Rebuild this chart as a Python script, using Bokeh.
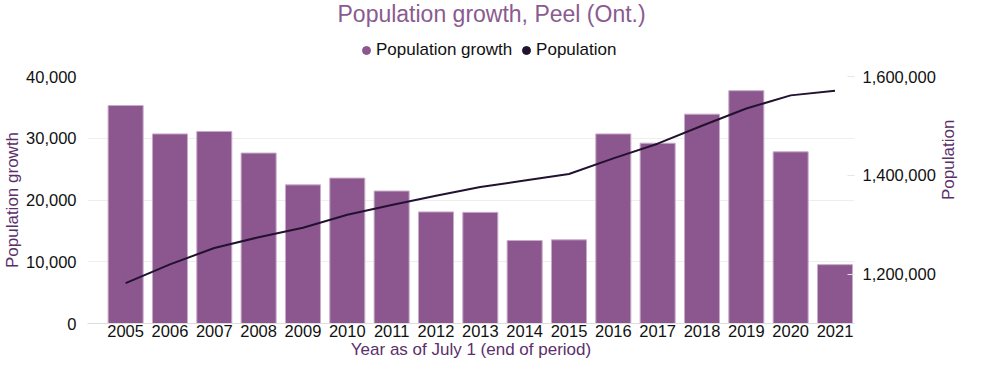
import math
from bokeh.plotting import figure
from bokeh.layouts import column
from bokeh.models import (Range1d, LinearAxis, FixedTicker, NumeralTickFormatter,
                          Legend, LegendItem, Title, ColumnDataSource)
from bokeh.embed import file_html
from bokeh.resources import INLINE

years = [2005, 2006, 2007, 2008, 2009, 2010, 2011, 2012, 2013,
         2014, 2015, 2016, 2017, 2018, 2019, 2020, 2021]
growth = [35300, 30700, 31100, 27600, 22450, 23550, 21450, 18070, 18000,
          13440, 13550, 30700, 29200, 33900, 37700, 27800, 9530]
population = [1181600, 1219800, 1252800, 1274600, 1293700, 1320100, 1340000,
              1358400, 1376200, 1389500, 1402600, 1434300, 1464000, 1500300,
              1535300, 1561800, 1571000]
left_ticks = [0, 10000, 20000, 30000, 40000]
right_ticks = [1200000, 1400000, 1600000]

FONT = "Liberation Sans"
BAR = "#8b578e"
LINE = "#221230"
LABEL = "#5b2f6b"
TICK = "#111111"

# ---------- header: title + legend ----------
head = figure(width=970, height=62, output_backend="svg", toolbar_location=None,
              title=None, x_range=Range1d(0, 1), y_range=Range1d(0, 1),
              min_border_left=0, min_border_right=0, min_border_top=0,
              min_border_bottom=0)
head.axis.visible = False
head.grid.visible = False
head.outline_line_color = None
head.border_fill_color = "white"
head.background_fill_color = "white"

dummy = ColumnDataSource(dict(x=[-10], y=[-10]))
d1 = head.scatter(x="x", y="y", source=dummy, marker="circle", size=8,
                  fill_color=BAR, line_color=BAR)
d2 = head.scatter(x="x", y="y", source=dummy, marker="circle", size=8,
                  fill_color=LINE, line_color=LINE)
legend = Legend(items=[LegendItem(label="Population growth", renderers=[d1]),
                       LegendItem(label="Population", renderers=[d2])],
                orientation="horizontal", location=(269, 2), margin=0,
                padding=0, spacing=4, label_standoff=0,
                glyph_width=20, glyph_height=20, label_height=20,
                label_text_font=FONT, label_text_font_size="17px",
                label_text_color=TICK, border_line_color=None,
                background_fill_alpha=0)
head.add_layout(legend, "center")
title = Title(text="Population growth, Peel (Ont.)", align="left", offset=250,
              text_font=FONT, text_font_size="23px", text_font_style="normal",
              text_color="#8a5b8f", vertical_align="top", standoff=0)
head.add_layout(title, "above")

# ---------- main chart ----------
src = ColumnDataSource(dict(year=years, growth=growth, pop=population))

p = figure(width=970, height=301, output_backend="svg", toolbar_location=None,
           title=None, x_range=Range1d(2004.14, 2021.44), y_range=Range1d(0, 40000),
           min_border_left=80, min_border_right=104, min_border_top=14,
           min_border_bottom=40)
p.extra_y_ranges = {"pop": Range1d(1100000, 1600000)}
p.outline_line_color = None
p.background_fill_color = "white"
p.border_fill_color = "white"

p.xgrid.visible = False
p.ygrid.grid_line_color = "#eeeeee"
p.ygrid.grid_line_width = 1

p.vbar(x="year", top="growth", width=0.79, source=src,
       fill_color=BAR, line_color="#c8abc9", line_width=1)
p.line(x="year", y="pop", source=src, y_range_name="pop",
       line_color=LINE, line_width=2)

def style_axis(ax):
    ax.major_label_text_font = FONT
    ax.major_label_text_color = TICK
    ax.major_label_text_line_height = 1.0
    ax.axis_label_text_font = FONT
    ax.axis_label_text_font_size = "17px"
    ax.axis_label_text_font_style = "normal"
    ax.axis_label_text_color = LABEL
    ax.axis_label_text_line_height = 1.0
    ax.minor_tick_line_color = None
    ax.minor_tick_out = 0
    ax.minor_tick_in = 0

# x axis
xa = p.xaxis[0]
style_axis(xa)
xa.ticker = FixedTicker(ticks=years)
xa.axis_line_color = "#dddddd"
xa.major_tick_line_color = None
xa.major_tick_out = 0
xa.major_tick_in = 0
xa.major_label_standoff = 1
xa.major_label_text_font_size = "16.5px"
xa.axis_label = "Year as of July 1 (end of period)"
xa.axis_label_standoff = 0

# left axis
ya = p.yaxis[0]
style_axis(ya)
ya.ticker = FixedTicker(ticks=left_ticks)
ya.formatter = NumeralTickFormatter(format="0,0")
ya.axis_line_color = None
ya.major_tick_line_color = None
ya.major_tick_out = 0
ya.major_tick_in = 0
ya.major_label_standoff = 11
ya.major_label_text_font_size = "16.5px"
ya.axis_label = "Population growth"
ya.axis_label_standoff = 1

# right axis
ra = LinearAxis(y_range_name="pop", ticker=FixedTicker(ticks=right_ticks),
                formatter=NumeralTickFormatter(format="0,0"))
style_axis(ra)
ra.axis_line_color = None
ra.major_tick_line_color = "#e6e6e6"
ra.major_tick_in = 7
ra.major_tick_out = 0
ra.major_label_standoff = 8
ra.major_label_text_font_size = "16.5px"
ra.axis_label = "Population"
ra.axis_label_standoff = 10
if "axis_label_orientation" in ra.properties():
    ra.axis_label_orientation = math.pi / 2
p.add_layout(ra, "right")

layout = column(head, p, spacing=0)
open("out.html", "w").write(file_html(layout, INLINE))
